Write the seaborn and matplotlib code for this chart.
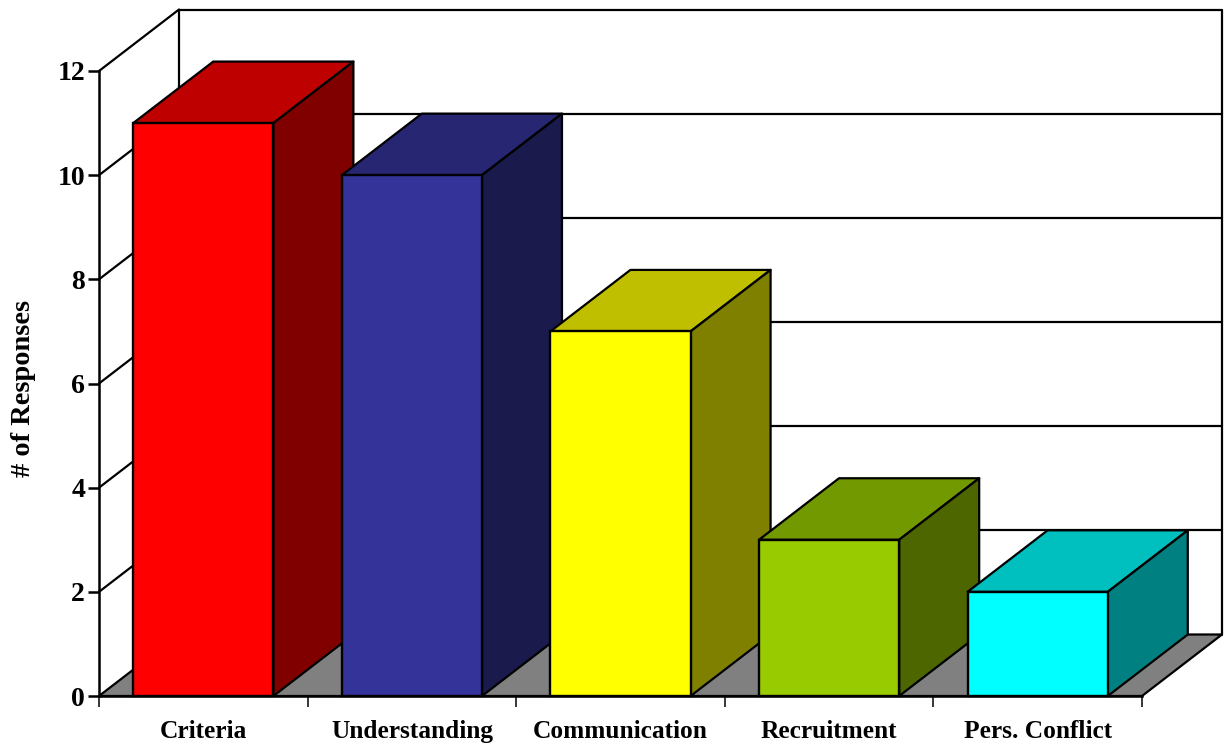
import matplotlib
matplotlib.use("Agg")
import matplotlib.pyplot as plt
import pandas as pd
import seaborn as sns
from matplotlib.patches import Polygon

categories = ["Criteria", "Understanding", "Communication", "Recruitment", "Pers. Conflict"]
responses = [11, 10, 7, 3, 2]
front_colors = ["#FF0000", "#333399", "#FFFF00", "#99CC00", "#00FFFF"]
top_colors = ["#BF0000", "#262673", "#BFBF00", "#739900", "#00BFBF"]
side_colors = ["#800000", "#1A1A4D", "#808000", "#4D6600", "#008080"]
y_ticks = [0, 2, 4, 6, 8, 10, 12]

W, H = 1224, 750
sns.set_theme(style="white")
plt.rcParams["font.family"] = ["Liberation Serif", "DejaVu Serif"]
plt.rcParams["font.weight"] = "bold"

fig = plt.figure(figsize=(W / 100, H / 100), dpi=100, facecolor="white")
ax = fig.add_axes([99 / W, 1 - 696 / H, (1142 - 99) / W, (696 - 71) / H])
ax.patch.set_visible(False)

df = pd.DataFrame({"category": categories, "responses": responses})
sns.barplot(data=df, x="category", y="responses", hue="category", palette=front_colors,
            order=categories, hue_order=categories, width=0.672, saturation=1, legend=False,
            edgecolor="black", linewidth=1.7, ax=ax, zorder=3)
ax.set_xlim(-0.5, 4.5)
ax.set_ylim(0, 12)

# depth of the 3-D box, as a fraction of the axes' units
DX = 80 / ((1142 - 99) / 5)
DY = 61.5 / ((696 - 71) / 12)
LW = 1.6

# floor
ax.add_patch(Polygon([(-0.5, 0), (4.5, 0), (4.5 + DX, DY), (-0.5 + DX, DY)], closed=True,
                     facecolor="#808080", edgecolor="black", linewidth=LW, clip_on=False, zorder=1))
# walls and gridlines
for t in y_ticks:
    if t > 0:
        ax.plot([-0.5, -0.5 + DX], [t, t + DY], color="black", lw=LW, clip_on=False, zorder=1.5)
        ax.plot([-0.5 + DX, 4.5 + DX], [t + DY, t + DY], color="black", lw=LW, clip_on=False, zorder=1.5)
ax.plot([-0.5 + DX, -0.5 + DX], [DY, 12 + DY], color="black", lw=LW, clip_on=False, zorder=1.5)
ax.plot([4.5 + DX, 4.5 + DX], [DY, 12 + DY], color="black", lw=LW, clip_on=False, zorder=1.5)

# extruded bar faces
for i, cont in enumerate(ax.containers):
    bar = cont[0]
    x0, x1, h = bar.get_x(), bar.get_x() + bar.get_width(), bar.get_height()
    z = 3 + i
    bar.set_zorder(z + 0.2)
    bar.set_clip_on(False)
    ax.add_patch(Polygon([(x0, h), (x1, h), (x1 + DX, h + DY), (x0 + DX, h + DY)], closed=True,
                         facecolor=top_colors[i], edgecolor="black", linewidth=LW,
                         clip_on=False, zorder=z, joinstyle="round"))
    ax.add_patch(Polygon([(x1, 0), (x1 + DX, DY), (x1 + DX, h + DY), (x1, h)], closed=True,
                         facecolor=side_colors[i], edgecolor="black", linewidth=LW,
                         clip_on=False, zorder=z, joinstyle="round"))

# axes furniture
for s in ["top", "right"]:
    ax.spines[s].set_visible(False)
for s in ["left", "bottom"]:
    ax.spines[s].set_visible(True)
    ax.spines[s].set_color("black")
    ax.spines[s].set_linewidth(1.8)
    ax.spines[s].set_zorder(20)

ax.set_yticks(y_ticks)
ax.set_yticklabels([str(t) for t in y_ticks], fontsize=20, fontweight="bold", color="black",
                   va="center_baseline")
ax.tick_params(axis="y", which="major", left=True, length=8, width=1.8, color="black", pad=2)

ax.set_xticks(range(len(categories)))
ax.set_xticklabels(categories, fontsize=18.3, fontweight="bold", color="black")
ax.set_xticks([-0.5, 0.5, 1.5, 2.5, 3.5, 4.5], minor=True)
ax.tick_params(axis="x", which="major", bottom=False, length=0, pad=17.5)
ax.tick_params(axis="x", which="minor", bottom=True, length=8, width=1.1, color="black")

ax.set_xlabel("")
ax.set_ylabel("")
fig.text(24 / W, 1 - 388 / H, "# of Responses", rotation=90, ha="center", va="center",
         fontsize=20.4, fontweight="bold", color="black")

fig.savefig("out.png", dpi=100, facecolor="white")
